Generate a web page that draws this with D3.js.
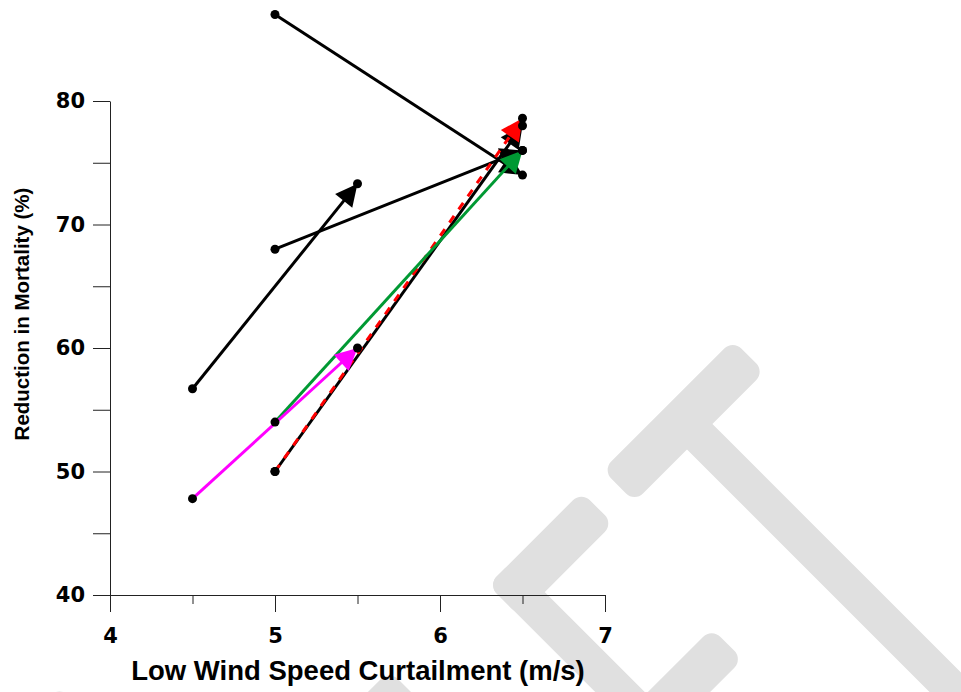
<!DOCTYPE html>
<html>
<head>
<meta charset="utf-8">
<script src="https://cdn.jsdelivr.net/npm/d3@7"></script>
<style>
  body { margin: 0; background: #fff; }
  svg { display: block; }
</style>
</head>
<body>
<svg id="chart" width="961" height="692"></svg>
<script>
// Each arrow: curtailment speed (m/s) and mortality reduction (%) at its tail and head
const fromSpeed     = [5,   5,   4.5,  5,   5,    5,   4.5];
const toSpeed       = [6.5, 6.5, 5.5,  6.5, 6.5,  6.5, 5.5];
const fromReduction = [87,  68,  56.7, 50,  50,   54,  47.8];
const toReduction   = [74,  76,  73.3, 78,  78.6, 76,  60];

// Axis ticks
const xTicks      = [4, 5, 6, 7];
const xMinorTicks = [4.5, 5.5, 6.5];
const yTicks      = [40, 45, 50, 55, 60, 65, 70, 75, 80];
const yLabelTicks = [40, 50, 60, 70, 80];

// Styling per arrow
const arrowColors = ["#000000", "#000000", "#000000", "#000000", "#ff0000", "#009933", "#ff00ff"];
const arrowDashes = [null, null, null, null, "8,8", null, null];

const svg = d3.select("#chart");

// Faint grey backdrop strokes
const backdrop = svg.append("g").attr("fill", "#e0e0e0");
const bars = [
  // [x, y, angle, length, width]
  [618.6, 486, -45, 184, 45],
  [684, 421, 45, 420, 36],
  [504, 601, -45, 132, 45],
  [500.6, 572.6, 45, 300, 35],
  [649.5, 721.5, -45, 110, 44],
  [405, 686, 135, 100, 44],
  [75, 702, 135, 100, 44]
];
bars.forEach(([bx, by, ang, len, w]) => {
  backdrop.append("rect")
    .attr("x", 0).attr("y", -w / 2)
    .attr("width", len).attr("height", w)
    .attr("rx", 12).attr("ry", 12)
    .attr("transform", `translate(${bx},${by}) rotate(${ang})`);
});

const x = d3.scaleLinear().domain([4, 7]).range([110, 605]);
const y = d3.scaleLinear().domain([40, 80]).range([595, 101]);

// Axes
const axisColor = "#222";
const yAxis = svg.append("g")
  .attr("transform", "translate(110,0)")
  .call(d3.axisLeft(y).tickValues(yTicks).tickSize(17).tickSizeOuter(0).tickPadding(8)
    .tickFormat(d => yLabelTicks.includes(d) ? d : ""));

const xAxis = svg.append("g")
  .attr("transform", "translate(0,595)")
  .call(d3.axisBottom(x).tickValues(xTicks).tickSize(17).tickSizeOuter(0).tickPadding(16)
    .tickFormat(d3.format("d")));

const xMinor = svg.append("g")
  .attr("transform", "translate(0,595)")
  .call(d3.axisBottom(x).tickValues(xMinorTicks).tickSize(9).tickSizeOuter(0).tickFormat(""));
xMinor.select(".domain").remove();

[yAxis, xAxis, xMinor].forEach(g => {
  g.selectAll("path, line").attr("stroke", axisColor).attr("stroke-width", 1);
  g.selectAll("text")
    .attr("fill", "#000")
    .style("font-family", "'DejaVu Sans', sans-serif")
    .style("font-weight", "bold")
    .style("font-size", "21px");
});

// Axis titles
svg.append("text")
  .attr("x", 358).attr("y", 680)
  .attr("text-anchor", "middle")
  .style("font-family", "'Liberation Sans', Arial, sans-serif")
  .style("font-weight", "bold")
  .style("font-size", "27.5px")
  .text("Low Wind Speed Curtailment (m/s)");

svg.append("text")
  .attr("transform", "translate(29,314) rotate(-90)")
  .attr("text-anchor", "middle")
  .style("font-family", "'Liberation Sans', Arial, sans-serif")
  .style("font-weight", "bold")
  .style("font-size", "20.5px")
  .text("Reduction in Mortality (%)");

// Arrows
const headLen = 22, headHalf = 11;
const arrows = svg.append("g");
fromSpeed.forEach((_, i) => {
  const x0 = x(fromSpeed[i]), y0 = y(fromReduction[i]);
  const x1 = x(toSpeed[i]),   y1 = y(toReduction[i]);
  const dx = x1 - x0, dy = y1 - y0, len = Math.hypot(dx, dy);
  const ux = dx / len, uy = dy / len;
  const bx = x1 - ux * headLen, by = y1 - uy * headLen;

  const line = arrows.append("line")
    .attr("x1", x0).attr("y1", y0)
    .attr("x2", bx + ux * 2).attr("y2", by + uy * 2)
    .attr("stroke", arrowColors[i])
    .attr("stroke-width", 3);
  if (arrowDashes[i]) line.attr("stroke-dasharray", arrowDashes[i]);

  arrows.append("path")
    .attr("d", d3.line()([
      [x1, y1],
      [bx - uy * headHalf, by + ux * headHalf],
      [bx + uy * headHalf, by - ux * headHalf]
    ]) + "Z")
    .attr("fill", arrowColors[i]);
});

// Endpoint markers
const ends = [];
fromSpeed.forEach((_, i) => {
  ends.push([fromSpeed[i], fromReduction[i]]);
  ends.push([toSpeed[i], toReduction[i]]);
});
svg.append("g").selectAll("circle")
  .data(ends)
  .join("circle")
  .attr("cx", d => x(d[0]))
  .attr("cy", d => y(d[1]))
  .attr("r", 4.5)
  .attr("fill", "#000");
</script>
</body>
</html>
